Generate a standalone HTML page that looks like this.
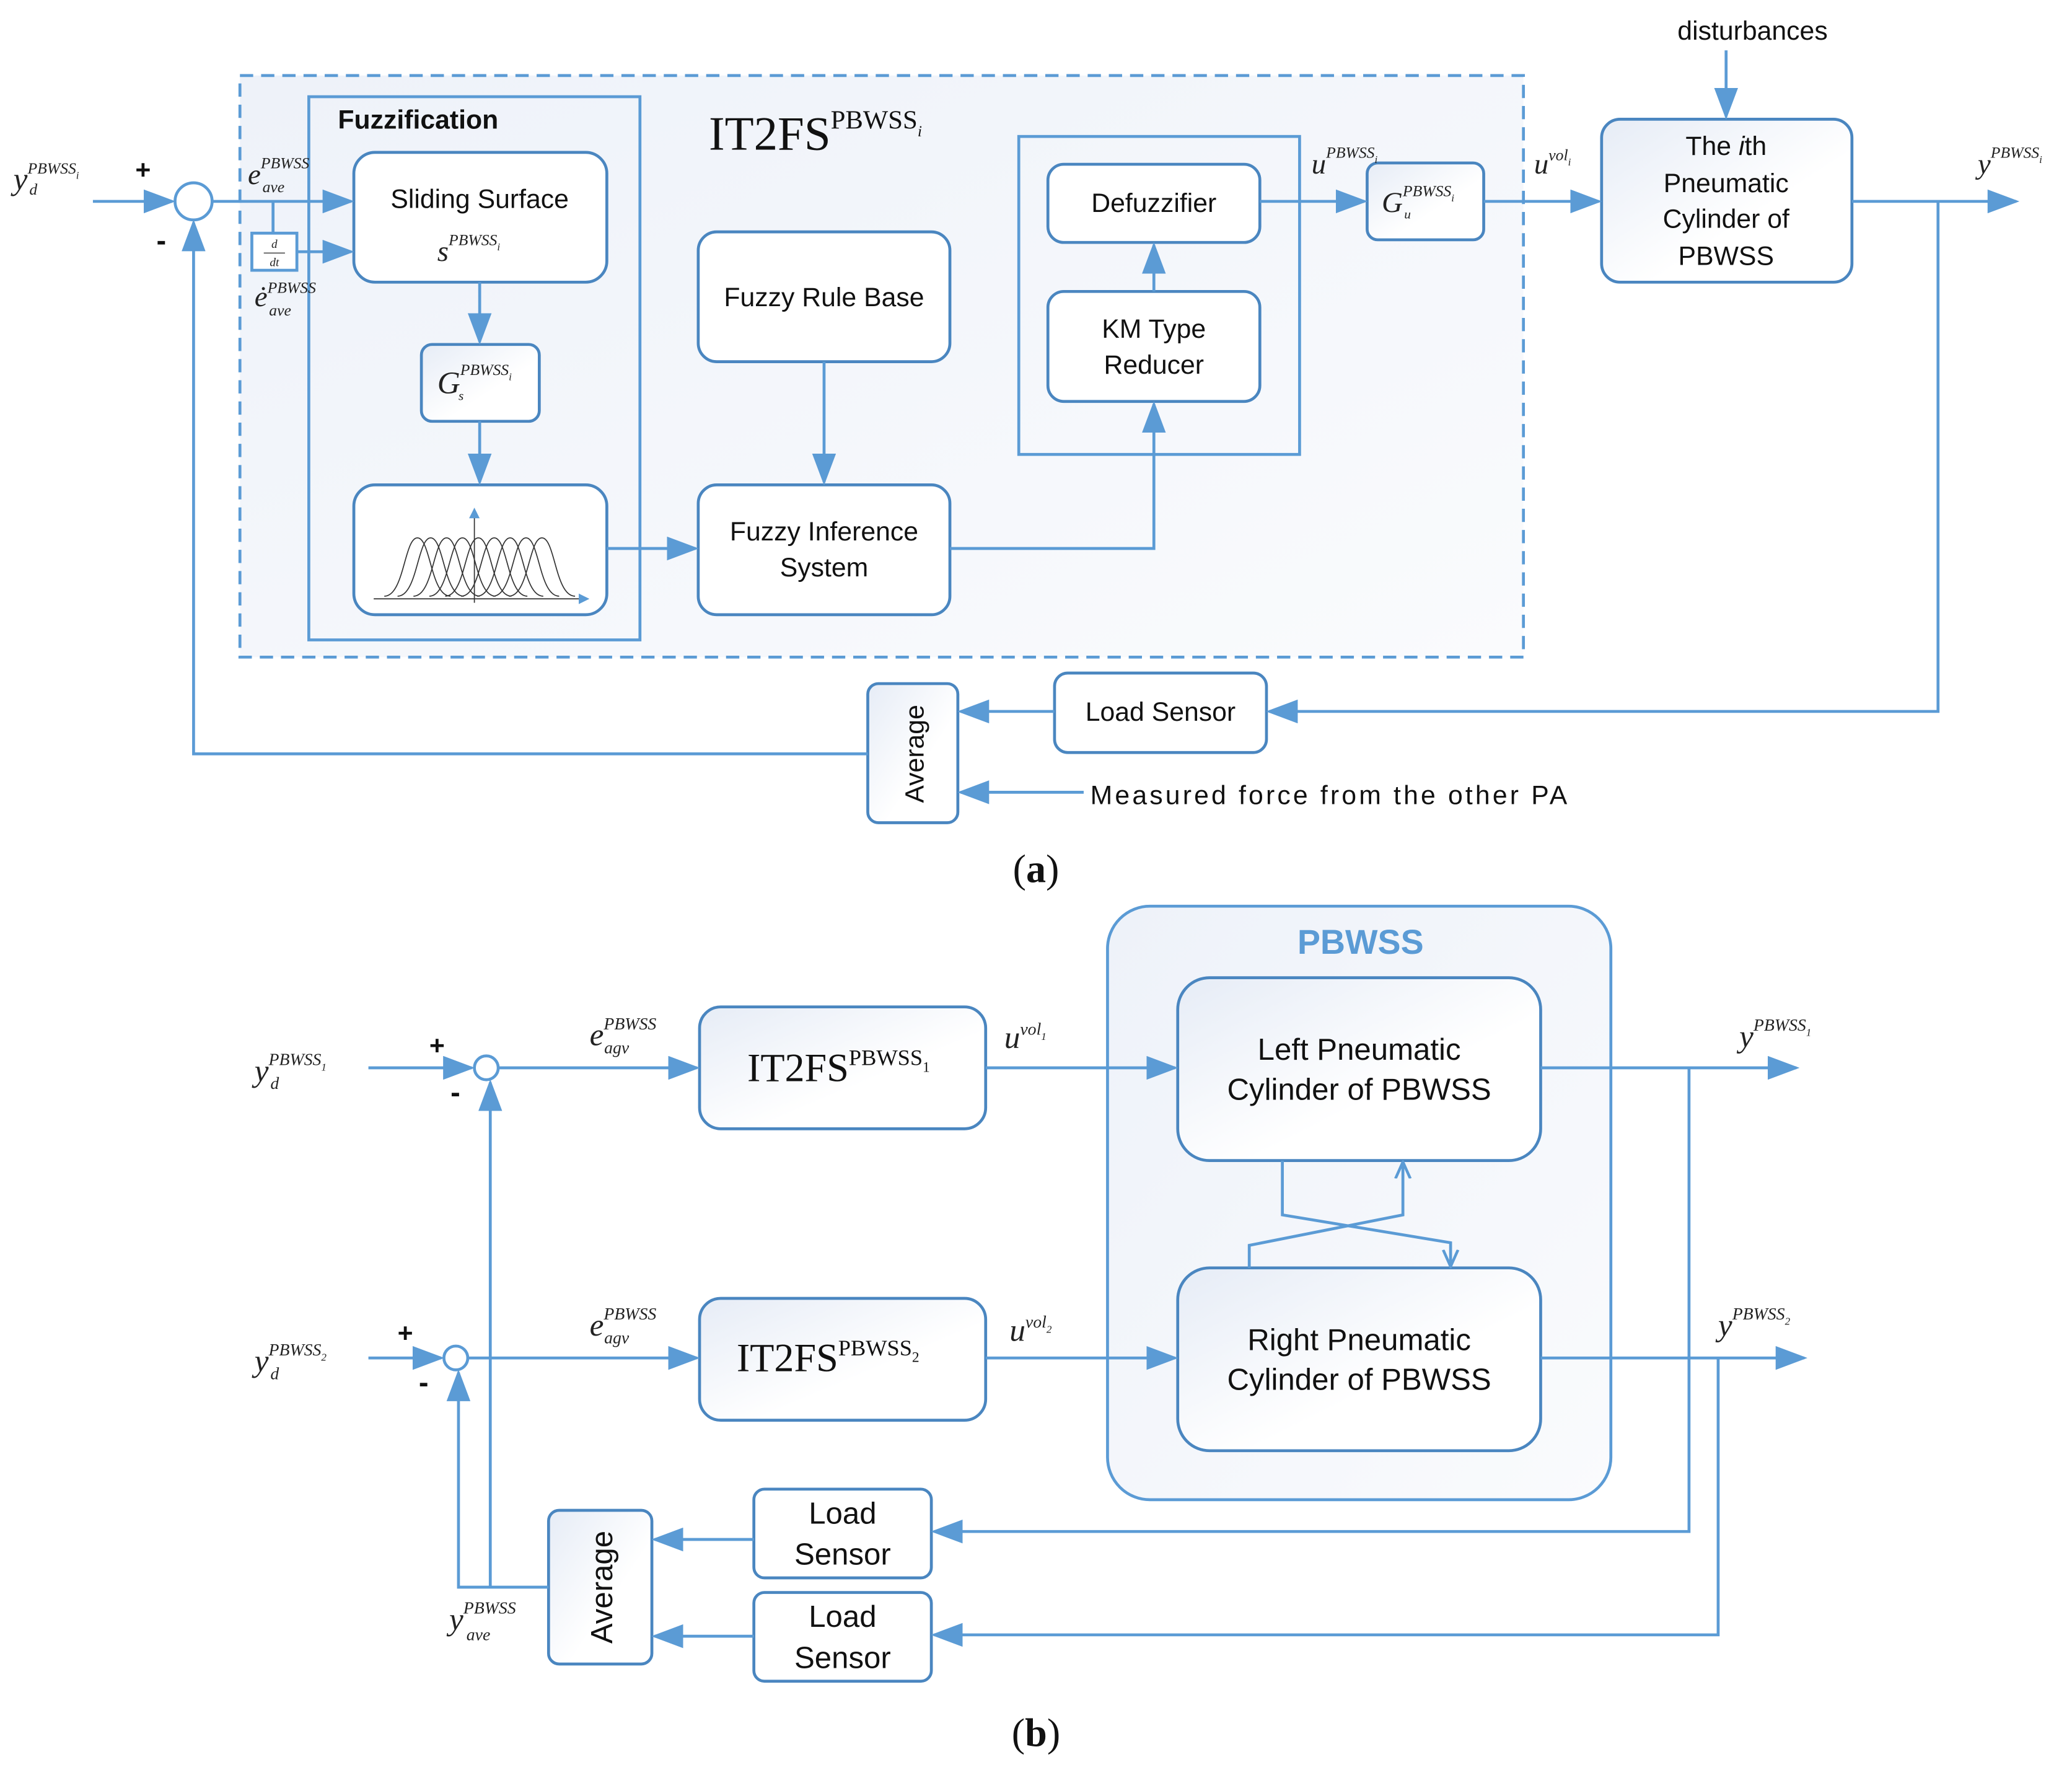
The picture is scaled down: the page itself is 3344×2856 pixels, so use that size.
<!DOCTYPE html>
<html><head><meta charset="utf-8"><style>
html,body{margin:0;padding:0;background:#fff;}
svg{display:block;}
.s{font-family:"Liberation Sans","DejaVu Sans",sans-serif;fill:#111;}
.m{font-family:"Liberation Serif",serif;font-style:italic;fill:#222;}
.r{font-family:"Liberation Serif",serif;fill:#111;}
</style></head><body>
<svg width="3344" height="2856" viewBox="0 0 1564 1336" xmlns="http://www.w3.org/2000/svg">
<defs>
<linearGradient id="g" x1="0" y1="0" x2="1" y2="1"><stop offset="0" stop-color="#e6ecf6"/><stop offset="0.6" stop-color="#ffffff"/></linearGradient>
<linearGradient id="g2" x1="0" y1="0" x2="1" y2="1"><stop offset="0" stop-color="#eef2f9"/><stop offset="1" stop-color="#fafbfd"/></linearGradient>
<marker id="a" viewBox="0 0 10 10" refX="9" refY="5" markerWidth="8" markerHeight="8" markerUnits="userSpaceOnUse" orient="auto"><path d="M0,0 L10,5 L0,10z" fill="#5b9bd5"/></marker>
<marker id="A" viewBox="0 0 10 10" refX="9" refY="5" markerWidth="24" markerHeight="18" markerUnits="userSpaceOnUse" orient="auto" preserveAspectRatio="none"><path d="M0,0 L10,5 L0,10z" fill="#5b9bd5"/></marker>
<marker id="o" viewBox="0 0 10 10" refX="9" refY="5" markerWidth="14" markerHeight="14" markerUnits="userSpaceOnUse" orient="auto"><path d="M0,1 L9,5 L0,9" fill="none" stroke="#5b9bd5" stroke-width="1.5"/></marker>
</defs>
<g fill="none" stroke="#5b9bd5" stroke-width="2.2">
<rect x="181" y="57" width="969" height="439" fill="url(#g2)" stroke-dasharray="10,6"/>
<rect x="233" y="73" width="250" height="410"/>
<rect x="769" y="103" width="212" height="240"/>
<rect x="267" y="115" width="191" height="98" rx="16" fill="#fff" stroke="#4a86c0"/>
<rect x="318" y="260" width="89" height="58" rx="8" fill="url(#g)" stroke="#4a86c0"/>
<rect x="267" y="366" width="191" height="98" rx="16" fill="#fff" stroke="#4a86c0"/>
<rect x="527" y="175" width="190" height="98" rx="14" fill="#fff" stroke="#4a86c0"/>
<rect x="527" y="366" width="190" height="98" rx="14" fill="#fff" stroke="#4a86c0"/>
<rect x="791" y="124" width="160" height="59" rx="12" fill="#fff" stroke="#4a86c0"/>
<rect x="791" y="220" width="160" height="83" rx="12" fill="#fff" stroke="#4a86c0"/>
<rect x="1032" y="123" width="88" height="58" rx="8" fill="url(#g)" stroke="#4a86c0"/>
<rect x="1209" y="90" width="189" height="123" rx="14" fill="url(#g)" stroke="#4a86c0"/>
<rect x="190" y="176" width="34" height="28" fill="#fff"/>
<rect x="796" y="508" width="160" height="60" rx="10" fill="#fff" stroke="#4a86c0"/>
<rect x="655" y="516" width="68" height="105" rx="8" fill="url(#g)" stroke="#4a86c0"/>
<circle cx="146" cy="152" r="14" fill="#fff"/>
<path d="M70,152 H130" marker-end="url(#A)"/>
<path d="M160,152 H265" marker-end="url(#A)"/>
<path d="M206,152 V176"/>
<path d="M224,190 H265" marker-end="url(#A)"/>
<path d="M362,213 V258" marker-end="url(#A)"/>
<path d="M362,318 V364" marker-end="url(#A)"/>
<path d="M458,414 H525" marker-end="url(#A)"/>
<path d="M622,273 V364" marker-end="url(#A)"/>
<path d="M717,414 H871 V305" marker-end="url(#A)"/>
<path d="M871,220 V185" marker-end="url(#A)"/>
<path d="M951,152 H1030" marker-end="url(#A)"/>
<path d="M1120,152 H1207" marker-end="url(#A)"/>
<path d="M1303,38 V88" marker-end="url(#A)"/>
<path d="M1398,152 H1522" marker-end="url(#A)"/>
<path d="M1463,152 V537 H958" marker-end="url(#A)"/>
<path d="M796,537 H725" marker-end="url(#A)"/>
<path d="M818,598 H725" marker-end="url(#A)"/>
<path d="M655,569 H146 V168" marker-end="url(#A)"/>
<rect x="836" y="684" width="380" height="448" rx="32" fill="url(#g2)"/>
<rect x="889" y="738" width="274" height="138" rx="24" fill="url(#g)" stroke="#4a86c0"/>
<rect x="889" y="957" width="274" height="138" rx="24" fill="url(#g)" stroke="#4a86c0"/>
<rect x="528" y="760" width="216" height="92" rx="16" fill="url(#g)" stroke="#4a86c0"/>
<rect x="528" y="980" width="216" height="92" rx="16" fill="url(#g)" stroke="#4a86c0"/>
<rect x="569" y="1124" width="134" height="67" rx="8" fill="#fff" stroke="#4a86c0"/>
<rect x="569" y="1202" width="134" height="67" rx="8" fill="#fff" stroke="#4a86c0"/>
<rect x="414" y="1140" width="78" height="116" rx="8" fill="url(#g)" stroke="#4a86c0"/>
<circle cx="367" cy="806" r="9" fill="#fff"/>
<circle cx="344" cy="1025" r="9" fill="#fff"/>
<path d="M278,806 H356" marker-end="url(#A)"/>
<path d="M376,806 H526" marker-end="url(#A)"/>
<path d="M744,806 H887" marker-end="url(#A)"/>
<path d="M1163,806 H1356" marker-end="url(#A)"/>
<path d="M1275,806 V1156 H705" marker-end="url(#A)"/>
<path d="M278,1025 H333" marker-end="url(#A)"/>
<path d="M353,1025 H526" marker-end="url(#A)"/>
<path d="M744,1025 H887" marker-end="url(#A)"/>
<path d="M1163,1025 H1362" marker-end="url(#A)"/>
<path d="M1297,1025 V1234 H705" marker-end="url(#A)"/>
<path d="M569,1162 H494" marker-end="url(#A)"/>
<path d="M569,1235 H494" marker-end="url(#A)"/>
<path d="M414,1198 H346 V1036" marker-end="url(#A)"/>
<path d="M370,1198 V817" marker-end="url(#A)"/>
<path d="M968,876 V917 L1095,938 V956" marker-end="url(#o)"/>
<path d="M943,957 V940 L1059,917 V877" marker-end="url(#o)"/>
</g>
<g fill="none" stroke="#333" stroke-width="0.8">
<path d="M282,452 H444" marker-end="url(#a)"/>
<path d="M358,455 V384" marker-end="url(#a)"/>
<path d="M290,450 C305,450 305,406 315,406 C325,406 325,450 340,450"/>
<path d="M300,450 C315,450 315,406 325,406 C335,406 335,450 350,450"/>
<path d="M312,450 C327,450 327,406 337,406 C347,406 347,450 362,450"/>
<path d="M324,450 C339,450 339,406 349,406 C359,406 359,450 374,450"/>
<path d="M336,450 C351,450 351,406 361,406 C371,406 371,450 386,450"/>
<path d="M348,450 C363,450 363,406 373,406 C383,406 383,450 398,450"/>
<path d="M360,450 C375,450 375,406 385,406 C395,406 395,450 410,450"/>
<path d="M372,450 C387,450 387,406 397,406 C407,406 407,450 422,450"/>
<path d="M384,450 C399,450 399,406 409,406 C419,406 419,450 434,450"/>
</g>
<text class="s" x="255" y="97" font-size="20" font-weight="bold">Fuzzification</text>
<text class="r" x="535" y="113" font-size="36">IT2FS<tspan font-size="20" dy="-16">PBWSS</tspan><tspan font-size="12" dy="6" font-style="italic">i</tspan></text>
<text class="s" x="362" y="157" font-size="20" text-anchor="middle">Sliding Surface</text>
<text class="m" x="330" y="197" font-size="22">s<tspan font-size="12" dy="-12">PBWSS<tspan font-size="8" dy="4">i</tspan></tspan></text>
<text class="m" x="330" y="297" font-size="24">G<tspan font-size="12" dy="-14">PBWSS<tspan font-size="8" dy="4">i</tspan></tspan></text>
<text class="m" x="346" y="302" font-size="10">s</text>
<text class="s" x="622" y="231" font-size="20" text-anchor="middle">Fuzzy Rule Base</text>
<text class="s" x="622" y="408" font-size="20" text-anchor="middle">Fuzzy Inference</text>
<text class="s" x="622" y="435" font-size="20" text-anchor="middle">System</text>
<text class="s" x="871" y="160" font-size="20" text-anchor="middle">Defuzzifier</text>
<text class="s" x="871" y="255" font-size="20" text-anchor="middle">KM Type</text>
<text class="s" x="871" y="282" font-size="20" text-anchor="middle">Reducer</text>
<text class="m" x="1043" y="160" font-size="22">G<tspan font-size="12" dy="-12">PBWSS<tspan font-size="8" dy="4">i</tspan></tspan></text>
<text class="m" x="1060" y="165" font-size="10">u</text>
<text class="s" x="1303" y="117" font-size="20" text-anchor="middle">The <tspan font-style="italic">i</tspan>th</text>
<text class="s" x="1303" y="145" font-size="20" text-anchor="middle">Pneumatic</text>
<text class="s" x="1303" y="172" font-size="20" text-anchor="middle">Cylinder of</text>
<text class="s" x="1303" y="200" font-size="20" text-anchor="middle">PBWSS</text>
<text class="s" x="1323" y="30" font-size="20" text-anchor="middle">disturbances</text>
<text class="s" x="876" y="544" font-size="20" text-anchor="middle">Load Sensor</text>
<text class="s" x="823" y="607" font-size="20" textLength="360">Measured force from the other PA</text>
<text class="s" x="697" y="569" font-size="20" text-anchor="middle" transform="rotate(-90 697 569)">Average</text>
<text class="s" x="102" y="135" font-size="20" font-weight="bold">+</text>
<text class="s" x="118" y="189" font-size="22" font-weight="bold">-</text>
<text class="m" x="10" y="143" font-size="24">y<tspan font-size="12" dy="-12">PBWSS<tspan font-size="8" dy="4">i</tspan></tspan></text>
<text class="m" x="22" y="147" font-size="12">d</text>
<text class="m" x="187" y="139" font-size="22">e<tspan font-size="12" dy="-12">PBWSS</tspan></text>
<text class="m" x="198" y="145" font-size="12">ave</text>
<text class="m" x="192" y="231" font-size="22">ė<tspan font-size="12" dy="-10">PBWSS</tspan></text>
<text class="m" x="203" y="238" font-size="12">ave</text>
<text class="m" x="207" y="187" font-size="9" text-anchor="middle">d</text>
<text class="m" x="207" y="201" font-size="9" text-anchor="middle">dt</text>
<line x1="199" y1="191" x2="215" y2="191" stroke="#333" stroke-width="0.6"/>
<text class="m" x="990" y="131" font-size="22">u<tspan font-size="12" dy="-12">PBWSS<tspan font-size="8" dy="4">i</tspan></tspan></text>
<text class="m" x="1158" y="131" font-size="22">u<tspan font-size="12" dy="-10">vol<tspan font-size="8" dy="4">i</tspan></tspan></text>
<text class="m" x="1493" y="131" font-size="22">y<tspan font-size="12" dy="-12">PBWSS<tspan font-size="8" dy="4">i</tspan></tspan></text>
<text class="r" x="782" y="666" font-size="30" text-anchor="middle">(<tspan font-weight="bold">a</tspan>)</text>
<text class="s" x="1027" y="720" font-size="26" font-weight="bold" text-anchor="middle" style="fill:#5b9bd5">PBWSS</text>
<text class="s" x="1026" y="800" font-size="23" text-anchor="middle">Left Pneumatic</text>
<text class="s" x="1026" y="830" font-size="23" text-anchor="middle">Cylinder of PBWSS</text>
<text class="s" x="1026" y="1019" font-size="23" text-anchor="middle">Right Pneumatic</text>
<text class="s" x="1026" y="1049" font-size="23" text-anchor="middle">Cylinder of PBWSS</text>
<text class="r" x="564" y="816" font-size="30">IT2FS<tspan font-size="17" dy="-12">PBWSS</tspan><tspan font-size="11" dy="5">1</tspan></text>
<text class="r" x="556" y="1035" font-size="30">IT2FS<tspan font-size="17" dy="-12">PBWSS</tspan><tspan font-size="11" dy="5">2</tspan></text>
<text class="s" x="636" y="1150" font-size="23" text-anchor="middle">Load</text>
<text class="s" x="636" y="1181" font-size="23" text-anchor="middle">Sensor</text>
<text class="s" x="636" y="1228" font-size="23" text-anchor="middle">Load</text>
<text class="s" x="636" y="1259" font-size="23" text-anchor="middle">Sensor</text>
<text class="s" x="462" y="1198" font-size="23" text-anchor="middle" transform="rotate(-90 462 1198)">Average</text>
<text class="s" x="324" y="796" font-size="20" font-weight="bold">+</text>
<text class="s" x="340" y="832" font-size="22" font-weight="bold">-</text>
<text class="s" x="300" y="1013" font-size="20" font-weight="bold">+</text>
<text class="s" x="316" y="1051" font-size="22" font-weight="bold">-</text>
<text class="m" x="192" y="816" font-size="24">y<tspan font-size="13" dy="-12">PBWSS<tspan font-size="8" dy="4">1</tspan></tspan></text>
<text class="m" x="204" y="822" font-size="13">d</text>
<text class="m" x="192" y="1035" font-size="24">y<tspan font-size="13" dy="-12">PBWSS<tspan font-size="8" dy="4">2</tspan></tspan></text>
<text class="m" x="204" y="1041" font-size="13">d</text>
<text class="m" x="445" y="789" font-size="24">e<tspan font-size="13" dy="-12">PBWSS</tspan></text>
<text class="m" x="456" y="795" font-size="13">agv</text>
<text class="m" x="445" y="1008" font-size="24">e<tspan font-size="13" dy="-12">PBWSS</tspan></text>
<text class="m" x="456" y="1014" font-size="13">agv</text>
<text class="m" x="758" y="791" font-size="24">u<tspan font-size="13" dy="-10">vol<tspan font-size="8" dy="4">1</tspan></tspan></text>
<text class="m" x="762" y="1012" font-size="24">u<tspan font-size="13" dy="-10">vol<tspan font-size="8" dy="4">2</tspan></tspan></text>
<text class="m" x="1313" y="790" font-size="24">y<tspan font-size="13" dy="-12">PBWSS<tspan font-size="8" dy="4">1</tspan></tspan></text>
<text class="m" x="1297" y="1008" font-size="24">y<tspan font-size="13" dy="-12">PBWSS<tspan font-size="8" dy="4">2</tspan></tspan></text>
<text class="m" x="339" y="1230" font-size="24">y<tspan font-size="13" dy="-12">PBWSS</tspan></text>
<text class="m" x="352" y="1238" font-size="13">ave</text>
<text class="r" x="782" y="1318" font-size="30" text-anchor="middle">(<tspan font-weight="bold">b</tspan>)</text>
</svg>
</body></html>
